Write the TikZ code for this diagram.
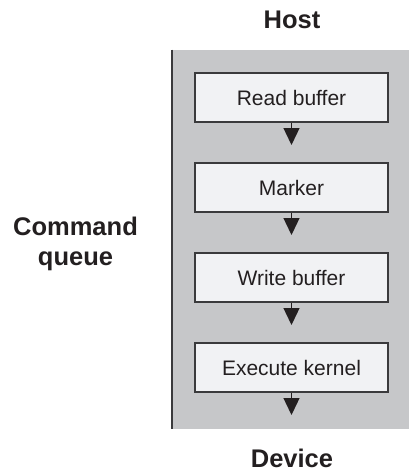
\documentclass[tikz,border=0pt]{standalone}
\usepackage{fontspec}
\setmainfont{Liberation Sans}
\usetikzlibrary{arrows.meta}
\definecolor{panelgray}{HTML}{C6C7C9}
\definecolor{boxfill}{HTML}{F1F2F4}
\definecolor{inkdark}{HTML}{231F20}
\definecolor{edgedark}{HTML}{3A3A3C}
\begin{document}
\begin{tikzpicture}[x=1pt,y=-1pt,
  cmdbox/.style={draw=edgedark,line width=1.3pt,fill=boxfill,minimum width=193pt,minimum height=49pt,inner sep=0pt,font=\fontsize{21}{24}\selectfont,text=inkdark},
  biglabel/.style={font=\fontsize{25.5}{30}\selectfont\bfseries,text=inkdark,inner sep=0pt},
  flow/.style={draw=inkdark,line width=1.3pt,-{Triangle[width=16pt,length=17pt]},shorten >=0pt}]
\useasboundingbox (0,0) rectangle (409,471);
\fill[panelgray] (171,49.5) rectangle (409,428.5);
\draw[edgedark,line width=2pt] (171.5,49.5) -- (171.5,428.5);
\node[biglabel,anchor=base] (host) at (292,28) {Host};
\node[biglabel,anchor=base] (device) at (292,467) {Device};
\node[biglabel,align=center] (cq) at (75.5,243.5) {Command\\queue};
\node[cmdbox] (rb) at (291.5,97.5) {Read buffer};
\node[cmdbox] (mk) at (291.5,187.5) {Marker};
\node[cmdbox] (wb) at (291.5,277.5) {Write buffer};
\node[cmdbox] (ek) at (291.5,367.5) {Execute kernel};
\coordinate (t1) at (291.5,145);
\coordinate (t2) at (291.5,235);
\coordinate (t3) at (291.5,325);
\coordinate (t4) at (291.5,415);
\draw[flow] (rb.south) -- (t1);
\draw[flow] (mk.south) -- (t2);
\draw[flow] (wb.south) -- (t3);
\draw[flow] (ek.south) -- (t4);
\end{tikzpicture}
\end{document}
